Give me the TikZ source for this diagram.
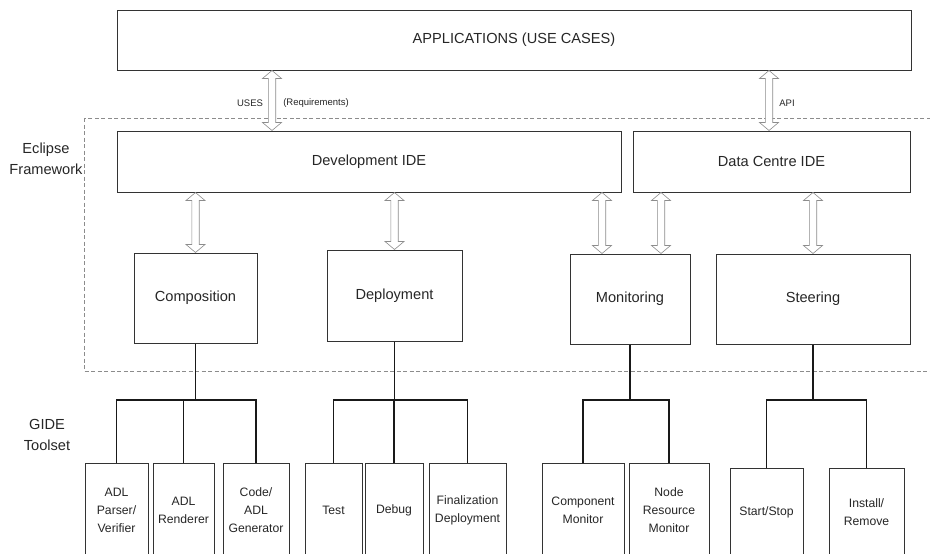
\documentclass[tikz,border=0pt]{standalone}
\usepackage{fontspec}
\setmainfont{Liberation Sans}
\usetikzlibrary{calc}

\tikzset{
  box/.style={draw=black!80, line width=1pt, inner sep=0pt, align=center, text=black!85,
    font=\fontsize{14.6}{21}\selectfont},
  tool/.style={box, anchor=north, minimum height=94pt, font=\fontsize{12.2}{18}\selectfont},
  tree/.style={draw=black!90, line width=1.8pt},
  hollow/.style={draw=black!45, fill=white, line width=0.6pt, line join=miter},
  frame/.style={draw=black!45, dash pattern=on 4pt off 2.5pt, line width=0.7pt},
  side/.style={align=center, text=black!85, font=\fontsize{14.6}{21}\selectfont},
  tag/.style={text=black!85, font=\fontsize{9.5}{11}\selectfont}
}

% hollow double-headed arrow from #1 (top) to #2 (bottom)
\newcommand{\hollowarrow}[2]{%
  \draw[hollow] (#1) -- ++(-9.5,8) -- ++(5.8,0) -- ($(#2)+(-3.7,-8)$) -- ++(-5.8,0) -- (#2)
    -- ++(9.5,-8) -- ++(-5.8,0) -- ($(#1)+(3.7,8)$) -- ++(5.8,0) -- cycle;}

\begin{document}
\begin{tikzpicture}[x=1pt, y=-1pt]
  \useasboundingbox (0,0) rectangle (930,554);
  \clip (0,0) rectangle (930,554);

  % eclipse framework border
  \draw[frame] (84,118) rectangle (940,371);

  \node[box, minimum width=794pt, minimum height=60pt] (app) at (514,40) {APPLICATIONS (USE CASES)};
  \node[box, minimum width=504pt, minimum height=61pt] (dev) at (369,161.5) {Development IDE};
  \node[box, minimum width=277pt, minimum height=61pt] (dc) at (771.5,161.5) {Data Centre IDE};

  \node[box, minimum width=123pt, minimum height=90pt] (comp) at (195.5,298) {Composition};
  \node[box, minimum width=135pt, minimum height=91pt] (depl) at (394.5,295.5) {Deployment};
  \node[box, minimum width=120pt, minimum height=90pt] (mon) at (630,299) {Monitoring};
  \node[box, minimum width=194pt, minimum height=90pt] (steer) at (813,299) {Steering};

  \node[side] (eclipse) at (46,158.5) {Eclipse\\Framework};
  \node[side] (gide) at (47,434.5) {GIDE\\Toolset};

  % toolset
  \node[tool, minimum width=63pt] (parser) at (116.5,463) {ADL\\Parser/\\Verifier};
  \node[tool, minimum width=61pt] (render) at (183.5,463) {ADL\\Renderer};
  \node[tool, minimum width=66pt] (codegen) at (256,463) {Code/\\ADL\\Generator};
  \node[tool, minimum width=57pt] (test) at (333.5,463) {Test};
  \node[tool, minimum width=58pt] (debug) at (394,463) {Debug};
  \node[tool, minimum width=77pt] (final) at (467.5,463) {Finalization\\Deployment};
  \node[tool, minimum width=82pt] (compmon) at (583,463) {Component\\Monitor};
  \node[tool, minimum width=80pt] (nodemon) at (669,463) {Node\\Resource\\Monitor};
  \node[tool, minimum width=73pt, minimum height=88pt] (startstop) at (766.5,468) {Start/Stop};
  \node[tool, minimum width=75pt, minimum height=88pt] (install) at (866.5,468) {Install/\\Remove};

  % arrows
  \coordinate (usesx) at (272,0);
  \coordinate (apix) at (769,0);
  \coordinate (monl) at (602,0);
  \coordinate (monr) at (661,0);
  \hollowarrow{app.south -| usesx}{dev.north -| usesx}
  \hollowarrow{app.south -| apix}{dc.north -| apix}
  \hollowarrow{dev.south -| comp.north}{comp.north}
  \hollowarrow{dev.south -| depl.north}{depl.north}
  \hollowarrow{dev.south -| monl}{mon.north -| monl}
  \hollowarrow{dc.south -| monr}{mon.north -| monr}
  \hollowarrow{dc.south -| steer.north}{steer.north}

  \node[tag] (uses) at (250,103) {USES};
  \node[tag] (req) at (316,103) {(Requirements)};
  \node[tag] (api) at (787,103) {API};

  % tree
  \coordinate (bus) at (0,400);
  \foreach \p/\c in {comp/parser, comp/render, comp/codegen, depl/test, depl/debug, depl/final,
      mon/compmon, mon/nodemon, steer/startstop, steer/install}
    \draw[tree] (\p.south) -- (\p.south |- bus) -| (\c.north);
\end{tikzpicture}
\end{document}
